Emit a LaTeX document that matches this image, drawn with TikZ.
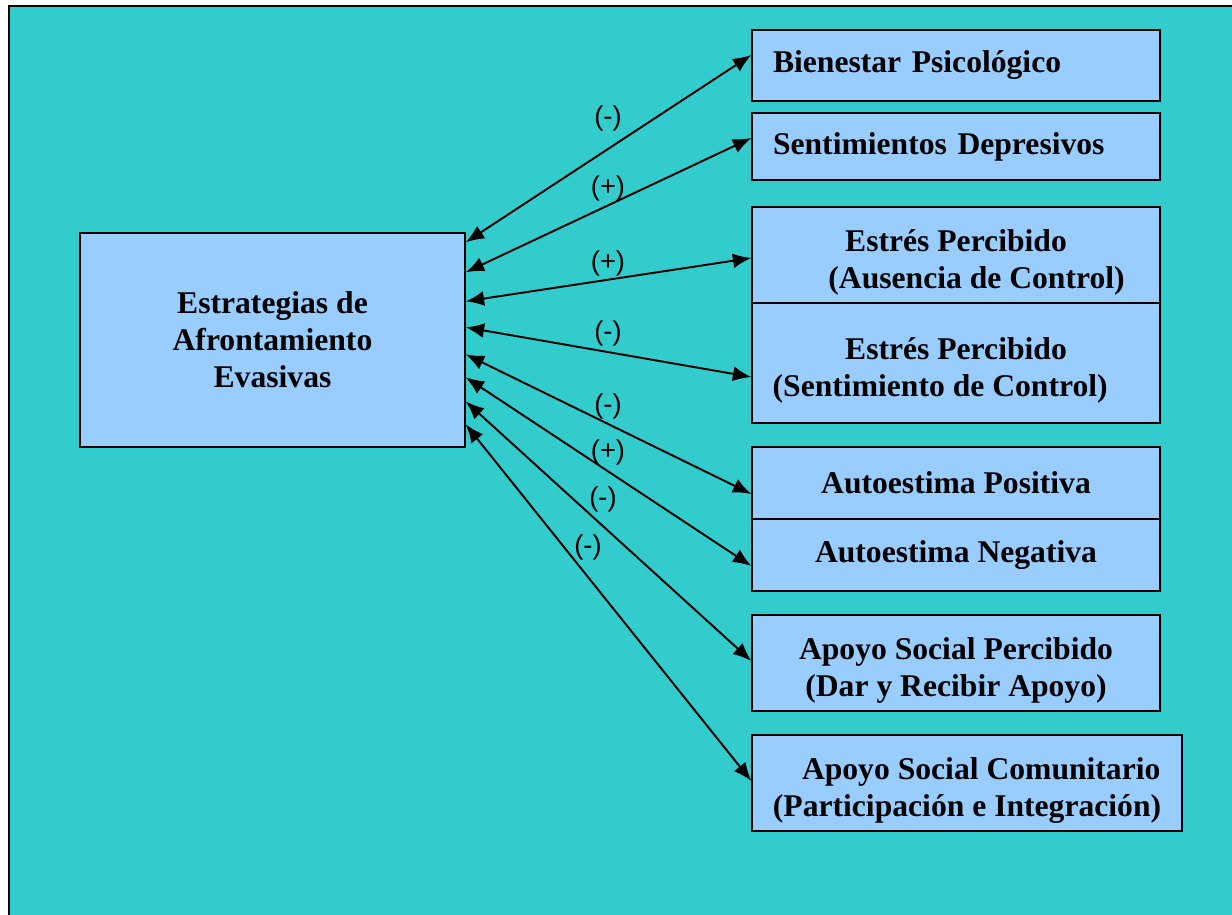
\documentclass[tikz,border=0pt]{standalone}
\usepackage{fontspec}
\setmainfont{Liberation Serif}
\setsansfont{Liberation Sans}
\usepackage{tikz}
\usetikzlibrary{arrows.meta, calc, positioning}

\definecolor{fondo}{HTML}{33CCCC}
\definecolor{caja}{HTML}{99CCFF}

\tikzset{
  varbox/.style={draw=black, line width=0.8pt, fill=caja, inner sep=0pt,
    align=center, font=\fontsize{18}{21}\selectfont\bfseries},
  dosline/.style={varbox, text height=43pt, text depth=5pt},
  rel/.style={<->, line width=1.1pt, >={Latex[length=10.5pt,width=8.5pt]}},
  signo/.style={inner sep=0pt, font=\sffamily\fontsize{15.5}{18}\selectfont}
}

\begin{document}
\begin{tikzpicture}[x=0.02cm, y=-0.02cm]
  \useasboundingbox (0,0) rectangle (1232,915);
  \fill[white] (0,0) rectangle (1232,915);
  \draw[fill=fondo, line width=1.2pt] (9,6) rectangle (1240,925);

  % variable central
  \node[varbox, minimum width=7.7cm, minimum height=4.28cm] (evas) at (272.5,340)
    {Estrategias de\\Afrontamiento\\Evasivas};

  % variables de resultado
  \node[varbox, minimum width=8.16cm, minimum height=1.42cm, text width=7.32cm, align=left] (bien) at (956,65.5)
    {Bienestar Psicológico};
  \node[varbox, minimum width=8.16cm, minimum height=1.34cm, text width=7.32cm, align=left] (sent) at (956,146.5)
    {Sentimientos Depresivos};
  \node[dosline, minimum width=8.16cm, minimum height=1.92cm] (estA) at (956,255)
    {Estrés Percibido\\\hspace*{1.3em}(Ausencia de Control)};
  \node[dosline, minimum width=8.16cm, minimum height=2.4cm] (estS) at (956,363)
    {Estrés Percibido\\\hspace*{-1em}(Sentimiento de Control)};
  \node[varbox, minimum width=8.16cm, minimum height=1.44cm] (autP) at (956,483)
    {Autoestima Positiva};
  \node[varbox, minimum width=8.16cm, minimum height=1.44cm] (autN) at (956,555)
    {Autoestima Negativa};
  \node[dosline, minimum width=8.16cm, minimum height=1.92cm] (apoP) at (956,663)
    {Apoyo Social Percibido\\(Dar y Recibir Apoyo)};
  \node[dosline, minimum width=8.6cm, minimum height=1.92cm] (apoC) at (967,783)
    {\hspace*{0.9em}Apoyo Social Comunitario\\(Participación e Integración)};

  % relaciones
  \draw[rel] ($(evas.north east)+(0,10)$)  -- ($(bien.west)+(0,-10.5)$);
  \draw[rel] ($(evas.north east)+(0,40)$)  -- ($(sent.west)+(0,-8.5)$);
  \draw[rel] ($(evas.north east)+(0,69)$)  -- ($(estA.west)+(0,3)$);
  \draw[rel] ($(evas.north east)+(0,95)$)  -- ($(estS.west)+(0,14)$);
  \draw[rel] ($(evas.north east)+(0,122)$) -- ($(autP.west)+(0,11)$);
  \draw[rel] ($(evas.north east)+(0,145)$) -- ($(autN.west)+(0,11)$);
  \draw[rel] ($(evas.north east)+(0,169)$) -- ($(apoP.west)+(0,-2)$);
  \draw[rel] ($(evas.north east)+(0,192)$) -- ($(apoC.west)+(0,-2)$);

  % signos
  \node[signo] (s1) at (608,118) {(-)};
  \node[signo] (s2) at (608,188) {(+)};
  \node[signo] (s3) at (608,263) {(+)};
  \node[signo] (s4) at (608,333) {(-)};
  \node[signo] (s5) at (608,406) {(-)};
  \node[signo] (s6) at (608,452) {(+)};
  \node[signo] (s7) at (603,499) {(-)};
  \node[signo] (s8) at (588,547) {(-)};
\end{tikzpicture}
\end{document}
